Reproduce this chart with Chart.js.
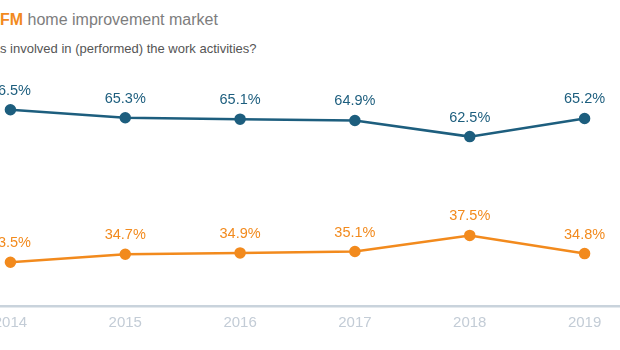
<!DOCTYPE html>
<html>
<head>
<meta charset="utf-8">
<script src="https://cdn.jsdelivr.net/npm/chart.js@4.4.1/dist/chart.umd.min.js"></script>
<style>
  html, body { margin: 0; padding: 0; background: #ffffff; }
  body { width: 620px; height: 350px; overflow: hidden; position: relative; font-family: "Liberation Sans", Arial, sans-serif; }
  #title { position: absolute; left: 0; top: 11px; font-size: 16px; color: #7d7d7d; white-space: nowrap; }
  #title b { color: #f28a1d; }
  #subtitle { position: absolute; left: 0; top: 41px; font-size: 13px; color: #555555; white-space: nowrap; }
  .pre { position: absolute; right: 100%; top: 0; white-space: nowrap; }
  #c { position: absolute; left: -47px; top: 0; }
</style>
</head>
<body>
<div id="title"><span class="pre"><b>DIY</b> vs. <b>DI</b></span><b>FM</b> home improvement market</div>
<div id="subtitle"><span class="pre">Who wa</span>s involved in (performed) the work activities?</div>
<canvas id="c" width="689" height="350"></canvas>
<script>
const years = ["2014", "2015", "2016", "2017", "2018", "2019"];
const diyValues = [66.5, 65.3, 65.1, 64.9, 62.5, 65.2];
const difmValues = [33.5, 34.7, 34.9, 35.1, 37.5, 34.8];
const seriesNames = ["DIY", "DIFM"];

const BLUE = "#1d5e7e";
const ORANGE = "#f28a1d";

const labelPlugin = {
  id: "pointLabels",
  afterDatasetsDraw(chart) {
    const ctx = chart.ctx;
    ctx.save();
    ctx.font = "14.5px 'Liberation Sans', Arial, sans-serif";
    ctx.textAlign = "center";
    ctx.textBaseline = "alphabetic";
    chart.data.datasets.forEach((ds, di) => {
      const meta = chart.getDatasetMeta(di);
      ctx.fillStyle = ds.borderColor;
      meta.data.forEach((pt, i) => {
        ctx.fillText(ds.data[i].toFixed(1) + "%", pt.x, pt.y - 15);
      });
    });
    ctx.restore();
  }
};

new Chart(document.getElementById("c"), {
  type: "line",
  data: {
    labels: years,
    datasets: [
      {
        label: seriesNames[0],
        data: diyValues,
        yAxisID: "yBlue",
        borderColor: BLUE,
        backgroundColor: BLUE,
        borderWidth: 2.5,
        pointRadius: 4.5,
        pointHoverRadius: 4.5,
        tension: 0
      },
      {
        label: seriesNames[1],
        data: difmValues,
        yAxisID: "yOrange",
        borderColor: ORANGE,
        backgroundColor: ORANGE,
        borderWidth: 2.5,
        pointRadius: 4.5,
        pointHoverRadius: 4.5,
        tension: 0
      }
    ]
  },
  options: {
    responsive: false,
    animation: false,
    devicePixelRatio: 1,
    layout: { autoPadding: false, padding: { top: 70, bottom: 10, left: 0, right: 0 } },
    plugins: {
      legend: { display: false },
      title: { display: false },
      tooltip: { enabled: false }
    },
    scales: {
      x: {
        type: "category",
        offset: true,
        grid: { display: false, drawTicks: false, tickLength: 0 },
        border: { display: true, color: "#c9d3dc", width: 2.5 },
        ticks: {
          color: "#c3ccd6",
          padding: 8,
          font: { family: "'Liberation Sans', Arial, sans-serif", size: 15 }
        }
      },
      yBlue: {
        display: false,
        min: 37.3,
        max: 72.41
      },
      yOrange: {
        display: false,
        min: 27,
        max: 62.11
      }
    }
  },
  plugins: [labelPlugin]
});
</script>
</body>
</html>
